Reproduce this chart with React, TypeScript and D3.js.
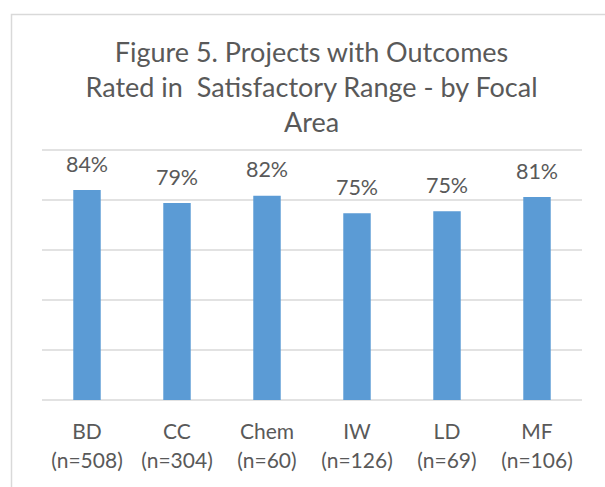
import React from "react";
import * as d3 from "d3";

const categories = ["BD", "CC", "Chem", "IW", "LD", "MF"];
const sampleSizes = ["(n=508)", "(n=304)", "(n=60)", "(n=126)", "(n=69)", "(n=106)"];
const values = [0.84, 0.788, 0.817, 0.747, 0.755, 0.812];
const valueLabels = ["84%", "79%", "82%", "75%", "75%", "81%"];
const gridTicks = [0, 0.2, 0.4, 0.6, 0.8, 1.0];
const titleLines = [
  "Figure 5. Projects with Outcomes",
  "Rated in  Satisfactory Range - by Focal",
  "Area",
];

const W = 605;
const H = 487;
const FONT = "Lato, 'Open Sans', sans-serif";
const TEXT = "#595959";

export default function App() {
  const x = d3.scaleBand<string>().domain(categories).range([42, 582]).padding(0);
  const y = d3.scaleLinear().domain([0, 1]).range([400, 150]);
  const barW = x.bandwidth() * 0.305;
  const cx = (c: string) => (x(c) as number) + x.bandwidth() / 2;

  return (
    <svg
      width={W}
      height={H}
      style={{ position: "absolute", left: 0, top: 0, background: "#fff" }}
      fontFamily={FONT}
    >
      <rect x={0} y={0} width={W} height={H} fill="#fff" />
      <rect x={11.5} y={14.5} width={W + 20} height={H + 20} fill="none" stroke="#d9d9d9" strokeWidth={1.5} />
      {titleLines.map((t, i) => (
        <text
          key={i}
          x={311.5}
          y={62 + i * 35}
          textAnchor="middle"
          fontSize={27}
          fill={TEXT}
          style={{ whiteSpace: "pre" }}
        >
          {t}
        </text>
      ))}
      {gridTicks.map((t) => (
        <line key={t} x1={42} x2={582} y1={y(t)} y2={y(t)} stroke="#d9d9d9" strokeWidth={1.5} />
      ))}
      {categories.map((c, i) => (
        <rect
          key={c}
          x={cx(c) - barW / 2}
          y={y(values[i])}
          width={barW}
          height={y(0) - y(values[i])}
          fill="#5b9bd5"
        />
      ))}
      {categories.map((c, i) => (
        <text key={c} x={cx(c)} y={y(values[i]) - 18.5} textAnchor="middle" fontSize={21.5} fill={TEXT}>
          {valueLabels[i]}
        </text>
      ))}
      {categories.map((c, i) => (
        <g key={c}>
          <text x={cx(c)} y={439} textAnchor="middle" fontSize={21} fill={TEXT}>
            {c}
          </text>
          <text x={cx(c)} y={468} textAnchor="middle" fontSize={21} fill={TEXT}>
            {sampleSizes[i]}
          </text>
        </g>
      ))}
    </svg>
  );
}
